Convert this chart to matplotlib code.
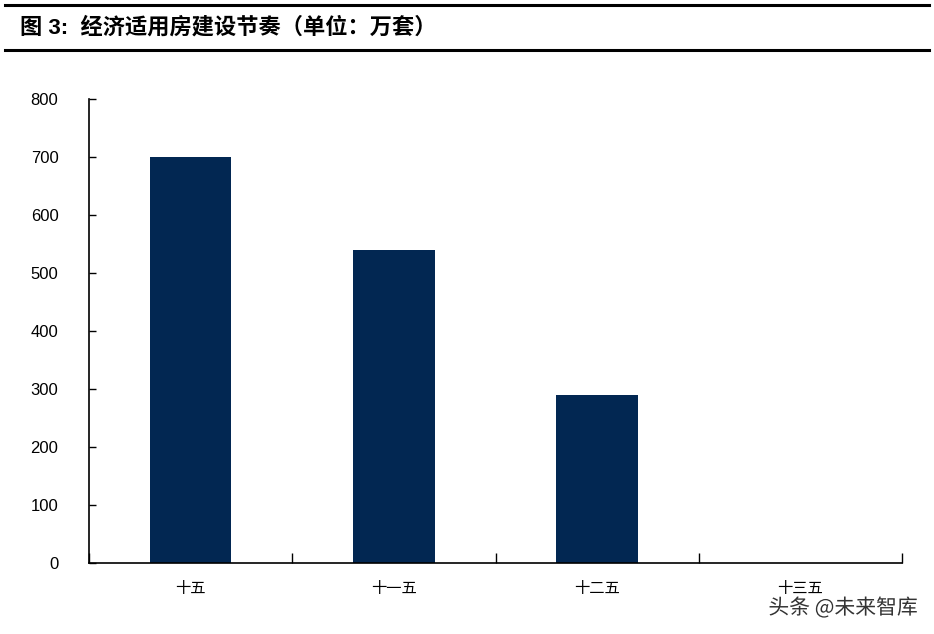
import matplotlib
matplotlib.use("Agg")
import matplotlib.pyplot as plt
import matplotlib.patheffects as pe
import numpy as np

categories = ["十五", "十一五", "十二五", "十三五"]
values = [700, 540, 290, 0]
yticks = [0, 100, 200, 300, 400, 500, 600, 700, 800]

plt.rcParams['font.family'] = ['Liberation Sans', 'Noto Sans CJK SC', 'DejaVu Sans']

fig = plt.figure(figsize=(9.34, 6.34), dpi=100)
W, H = 934, 634

# header lines and title
fig.add_artist(plt.Line2D([5 / W, 929 / W], [1 - 5 / H, 1 - 5 / H], color='black', lw=2.2))
fig.add_artist(plt.Line2D([5 / W, 929 / W], [1 - 50 / H, 1 - 50 / H], color='black', lw=2.2))
fig.text(20 / W, 1 - 28 / H, "图 3:  经济适用房建设节奏（单位：万套）", fontsize=16,
         fontweight='bold', va='center', ha='left',
         family=['Liberation Sans', 'Noto Sans CJK SC'])

ax = fig.add_axes([89 / W, 1 - 563 / H, (902 - 89) / W, (563 - 99) / H])
x = np.arange(len(categories))
ax.bar(x, values, width=0.4, color='#022752')
ax.set_xlim(-0.5, len(categories) - 0.5)
ax.set_ylim(0, 800)
ax.set_yticks(yticks)
ax.set_yticklabels([str(v) for v in yticks], fontsize=12)
ax.set_xticks(x)
ax.set_xticklabels(categories, fontsize=11, family=['Noto Sans CJK SC'])
ax.tick_params(axis='x', length=0, pad=12)
ax.tick_params(axis='y', direction='in', length=5, width=1, pad=22)
ax.set_xticks(np.arange(-0.5, len(categories), 1.0), minor=True)
ax.tick_params(axis='x', which='minor', direction='in', length=7, width=1)
for s in ['top', 'right']:
    ax.spines[s].set_visible(False)
for s in ['left', 'bottom']:
    ax.spines[s].set_linewidth(1.2)

fig.text(918 / W, 1 - 608 / H, "头条 @未来智库", fontsize=15, color='#333333', ha='right', va='center',
         family=['Noto Sans CJK SC'],
         path_effects=[pe.withStroke(linewidth=3, foreground='white')])

fig.savefig("out.png", dpi=100)
